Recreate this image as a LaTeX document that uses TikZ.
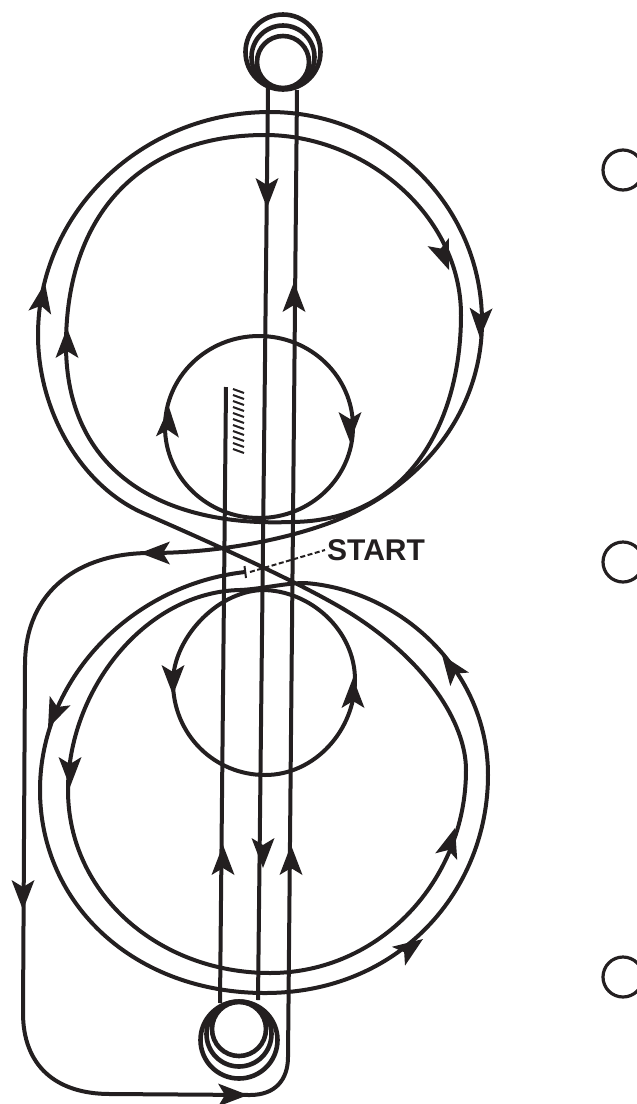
\documentclass[tikz,border=0pt]{standalone}
\usepackage{fontspec}
\setmainfont{Liberation Sans}
\usetikzlibrary{positioning}
\definecolor{inkblack}{HTML}{231F20}
\tikzset{
    tape/.style={
        draw=inkblack,
        line width=4pt,
        line join=round
    },
    bobbin/.style={
        circle,
        draw=inkblack,
        line width=4.6pt,
        inner sep=0pt,
        minimum size=#1
    },
    threadmark/.style={
        circle,
        draw=inkblack,
        line width=3.2pt,
        inner sep=0pt,
        minimum size=40pt
    },
    startlabel/.style={
        font=\fontsize{30}{30}\selectfont\bfseries,
        text=inkblack,
        inner sep=0pt
    },
    flowhead/.pic={
        \fill[inkblack] (0,0) -- (-30,11.5) -- (-23,0) -- (-30,-11.5) -- cycle;
    }
}

\begin{document}
\begin{tikzpicture}[x=1pt,y=-1pt]
\useasboundingbox (0,0) rectangle (637,1104);

% reels
\node[bobbin=75pt] (topoutera) at (283,52) {};
\node[bobbin=63pt] (topouterb) at (283,57) {};
\node[bobbin=52pt] (topinner) at (283,62) {};
\node[bobbin=77pt] (botoutera) at (239,1040) {};
\node[bobbin=65pt] (botouterb) at (239,1034) {};
\node[bobbin=54pt] (botinner) at (239,1029) {};

% straight runs
\coordinate (endleader) at (226,387);
\coordinate (endbottom) at (220,1003);
\coordinate (downtop) at (268,88);
\coordinate (downbottom) at (258,1000);
\draw[tape] (endleader) -- (endbottom);
\draw[tape] (downtop) -- (downbottom);

% hatching beside the leader
\foreach \y in {389,395,...,449}{
    \draw[inkblack,line width=2pt] (233,\y) -- (244,\y+4);
}

% tape from the start mark, round the lower loops
\coordinate (tapeend) at (245,572);
\draw[tape] (tapeend)
    .. controls (130,585) and (40,680) .. (40,790)
    .. controls (40,905) and (135,993) .. (265,993)
    .. controls (400,993) and (488,890) .. (488,775)
    .. controls (488,670) and (400,590) .. (305,583)
    .. controls (285,583) and (262,589) .. (240,590)
    .. controls (145,592) and (68,690) .. (68,790)
    .. controls (68,895) and (160,973) .. (270,973)
    .. controls (380,973) and (466,880) .. (466,770)
    .. controls (466,722) and (425,660) .. (350,613)
    .. controls (300,582) and (200,538) .. (143,513)
    .. controls (80,485) and (38,410) .. (38,335)
    .. controls (38,212) and (142,112) .. (270,112)
    .. controls (387,112) and (482,206) .. (482,322)
    .. controls (482,405) and (430,482) .. (337,520)
    .. controls (300,535) and (230,553) .. (150,553)
    .. controls (80,553) and (25,590) .. (25,665)
    -- (23,1013)
    .. controls (23,1065) and (55,1094) .. (110,1094)
    -- (250,1095)
    .. controls (275,1095) and (288,1080) .. (288,1057)
    -- (297,90);

% inner upper loop
\draw[tape] (66,345)
    .. controls (66,215) and (140,135) .. (265,135)
    .. controls (365,135) and (461,215) .. (461,315)
    .. controls (461,420) and (410,522) .. (290,522)
    .. controls (160,527) and (66,470) .. (66,345) -- cycle;

% small loops
\draw[tape] (259,427) ellipse [x radius=94, y radius=91];
\draw[tape] (173,682)
    .. controls (173,640) and (215,592) .. (262,590)
    .. controls (310,590) and (355,630) .. (355,680)
    .. controls (355,730) and (315,775) .. (265,775)
    .. controls (215,775) and (173,735) .. (173,682) -- cycle;

% arrowheads
\foreach \x/\y/\a in {
    267/208/-90, 294/282/90, 449/270/-69, 480/338/-92, 45/283/80,
    67/328/90, 169/407/87, 350/442/-90, 140/553/180, 23/910/-90,
    248/1095/0, 48/728/-114, 70/787/-90, 173/695/-90, 353/678/90,
    442/655/126, 455/828/73, 423/939/35, 223/845/90, 263/868/-90,
    291/845/90
}{
    \pic[rotate=\a] at (\x,\y) {flowhead};
}

% start label
\node[startlabel,anchor=base west] (startnote) at (327,560) {START};
\coordinate (leaderend) at (325,550);
\draw[inkblack,line width=2pt] (244.5,566) -- (246,578);
\draw[inkblack,line width=2pt,dash pattern=on 5pt off 2.5pt] (250,572) -- (leaderend);

% threading marks
\node[threadmark] (marktop) at (623,170) {};
\node[threadmark] (markmid) at (623,562) {};
\node[threadmark] (markbot) at (623,977) {};
\end{tikzpicture}
\end{document}
